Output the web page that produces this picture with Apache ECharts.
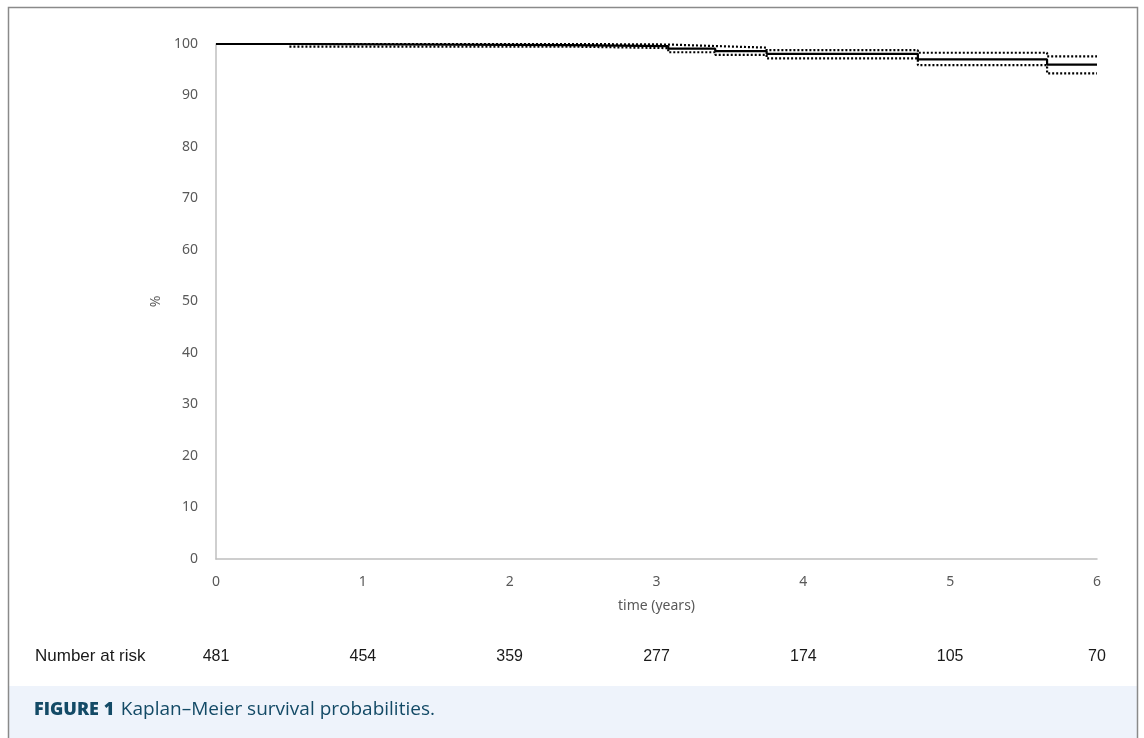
<!DOCTYPE html>
<html lang="en">
<head>
    <meta charset="UTF-8">
    <title>Kaplan-Meier</title>
    <script type="text/javascript" src="https://cdn.jsdelivr.net/npm/echarts@6/dist/echarts.min.js"></script>
    <style>
        html, body { margin: 0; padding: 0; background: #fff; }
        #km { width: 1144px; height: 738px; }
    </style>
</head>
<body>
<div id="km"></div>
<script type="text/javascript">
    // step times (years) and survival %
    var times    = [0, 0.5, 2.4, 3.08, 3.4, 3.75, 4.78, 5.66, 6];
    var survival = [100, 99.8, 99.6, 99.1, 98.6, 98.1, 97.0, 96.0, 96.0];
    var upperCI  = [100, 100, 99.9, 99.6, 99.3, 98.8, 98.3, 97.6, 97.6];
    var lowerCI  = [100, 99.5, 99.2, 98.4, 97.9, 97.2, 95.9, 94.3, 94.3];
    var yearTicks = [0, 1, 2, 3, 4, 5, 6];
    var atRisk = [481, 454, 359, 277, 174, 105, 70];

    function pairs(ys) {
        return times.map(function (t, i) { return [t, ys[i]]; });
    }

    var mychart = echarts.init(document.getElementById("km"));
    var axisFont = 'Noto Sans';
    var option = {
        animation: false,
        grid: { left: 216, right: 47, top: 44, bottom: 179 },
        xAxis: [{
            type: 'value', min: 0, max: 6, interval: 1,
            name: 'time (years)', nameLocation: 'middle', nameGap: 40,
            nameTextStyle: { color: '#595959', fontSize: 14, fontFamily: axisFont },
            axisLine: { show: true, lineStyle: { color: '#bfbfbf', width: 1.5 } },
            axisTick: { show: false },
            splitLine: { show: false },
            axisLabel: { color: '#595959', fontSize: 14, margin: 16, fontFamily: axisFont }
        }, {
            type: 'value', min: 0, max: 6, interval: 1, position: 'bottom', offset: 82,
            axisLine: { show: false }, axisTick: { show: false }, splitLine: { show: false },
            axisLabel: {
                color: '#1a1a1a', fontSize: 16, margin: 8, fontFamily: 'Liberation Sans',
                formatter: function (v) {
                    var i = yearTicks.indexOf(v);
                    return i < 0 ? '' : String(atRisk[i]);
                }
            }
        }],
        yAxis: {
            type: 'value', min: 0, max: 100, interval: 10,
            name: '%', nameLocation: 'middle', nameGap: 52,
            nameTextStyle: { color: '#595959', fontSize: 14, fontFamily: axisFont },
            axisLine: { show: true, lineStyle: { color: '#bfbfbf', width: 1.5 } },
            axisTick: { show: false },
            splitLine: { show: false },
            axisLabel: { color: '#595959', fontSize: 14, margin: 18, fontFamily: axisFont }
        },
        series: [{
            name: 'upper', type: 'line', step: 'end', symbol: 'none',
            data: pairs(upperCI),
            lineStyle: { color: '#000', width: 2.2, type: [2, 2] }
        }, {
            name: 'lower', type: 'line', step: 'end', symbol: 'none',
            data: pairs(lowerCI),
            lineStyle: { color: '#000', width: 2.2, type: [2, 2] }
        }, {
            name: 'survival', type: 'line', step: 'end', symbol: 'none',
            data: pairs(survival),
            lineStyle: { color: '#000', width: 2.2 }
        }],
        graphic: [{
            type: 'rect', silent: true, z: -10,
            shape: { x: 9, y: 686, width: 1128, height: 60 },
            style: { fill: '#eef3fb' }
        }, {
            type: 'rect', silent: true, z: 10,
            shape: { x: 8.5, y: 7.5, width: 1129, height: 740 },
            style: { fill: 'none', stroke: '#8a8a8a', lineWidth: 1.5 }
        }, {
            type: 'text', left: 35, top: 648,
            style: { text: 'Number at risk', fill: '#1a1a1a', fontSize: 17, fontFamily: 'Liberation Sans' }
        }, {
            type: 'text', left: 34, top: 700,
            style: {
                text: '{b|FIGURE 1}  {r|Kaplan\u2013Meier survival probabilities.}',
                rich: {
                    b: { fill: '#134a66', fontSize: 18, fontWeight: 900, fontFamily: 'Open Sans' },
                    r: { fill: '#134a66', fontSize: 19, fontFamily: 'Open Sans' }
                }
            }
        }]
    };
    mychart.setOption(option);
</script>
</body>
</html>
